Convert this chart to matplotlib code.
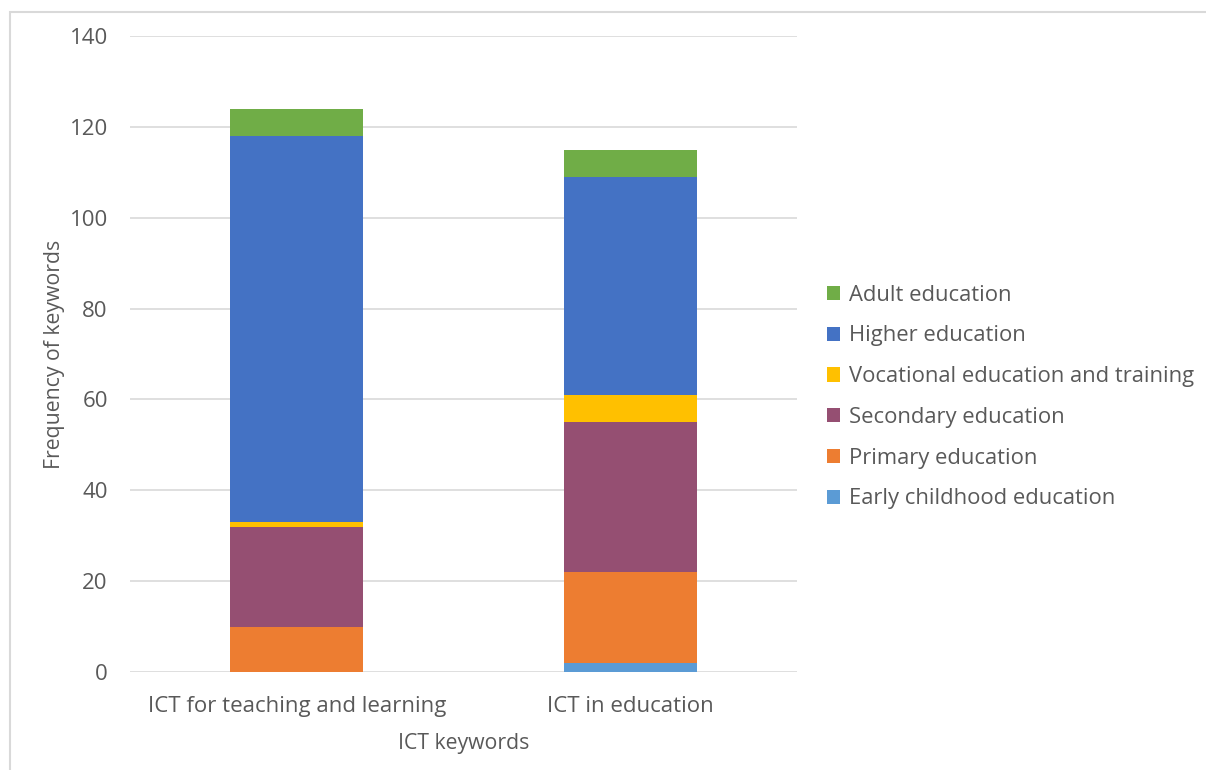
import numpy as np
import matplotlib.pyplot as plt
from matplotlib.patches import Rectangle

plt.rcParams['font.family'] = ['Open Sans', 'DejaVu Sans']

categories = ['ICT for teaching and learning', 'ICT in education']
series = ['Early childhood education', 'Primary education', 'Secondary education',
          'Vocational education and training', 'Higher education', 'Adult education']
early = [0, 2]
primary = [10, 20]
secondary = [22, 33]
vocational = [1, 6]
higher = [85, 48]
adult = [6, 6]
colors = ['#5b9bd5', '#ed7d31', '#954f72', '#ffc000', '#4472c4', '#70ad47']

values = [early, primary, secondary, vocational, higher, adult]

fig = plt.figure(figsize=(12.06, 7.7), dpi=100)
ax = fig.add_axes([130/1206, 98/770, 667/1206, 636/770])

x = np.arange(len(categories))
bottom = np.zeros(len(categories))
handles = []
for name, vals, col in zip(series, values, colors):
    h = ax.bar(x, vals, 0.4, bottom=bottom, color=col, label=name, zorder=3)
    handles.append(h)
    bottom += np.array(vals)

ax.set_xlim(-0.5, 1.5)
ax.set_ylim(0, 140)
ax.set_yticks(range(0, 141, 20))
ax.set_xticks(x)
ax.set_xticklabels(categories)
ax.yaxis.grid(True, color='#d9d9d9', linewidth=1.2, zorder=0)
for s in ax.spines.values():
    s.set_visible(False)
ax.tick_params(length=0, labelsize=16, colors='#595959')
ax.tick_params(axis='y', pad=16)
ax.tick_params(axis='x', pad=17)
ax.set_ylabel('Frequency of keywords', fontsize=15.3, color='#595959', labelpad=3)
ax.set_xlabel('ICT keywords', fontsize=15.3, color='#595959', labelpad=12)

leg = fig.legend(handles[::-1], series[::-1], loc='center left',
                 bbox_to_anchor=(807/1206, 1 - 397/770), frameon=False,
                 fontsize=15.8, handlelength=0.62, handleheight=0.62,
                 handletextpad=0.4, labelspacing=0.9, labelcolor='#595959')

# chart frame: only top and left edges fall inside the image
fig.patches.append(Rectangle((10/1206, -20/770), 1250/1206, 778/770,
                             transform=fig.transFigure, fill=False,
                             edgecolor='#d9d9d9', linewidth=1.5))

fig.savefig('out.png', dpi=100, facecolor='white')
